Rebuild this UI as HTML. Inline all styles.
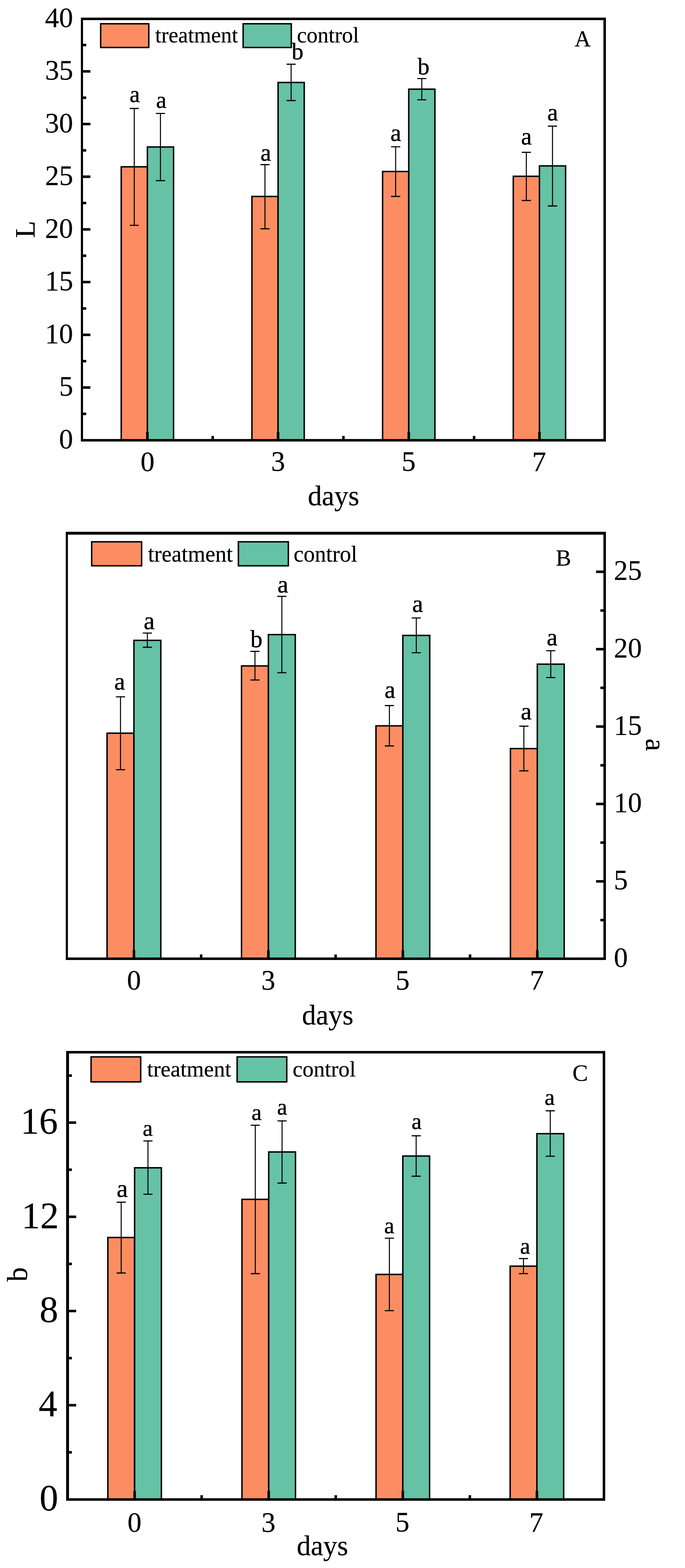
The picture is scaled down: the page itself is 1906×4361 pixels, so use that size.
<!DOCTYPE html>
<html lang="en">
<head>
<meta charset="utf-8">
<title>Colour parameters L, a, b of treatment and control over days</title>
<style>
html,body{margin:0;padding:0;background:#fff;}
body{width:1906px;height:4361px;overflow:hidden;}
svg{display:block;}
svg text{font-family:"Liberation Serif", "DejaVu Serif", serif;fill:#000;stroke:#000;stroke-width:0.3px;}
svg .ann text{stroke-width:0.7px;}
</style>
</head>
<body>
<svg width="1906" height="4361" viewBox="0 0 1906 4361" role="img" aria-label="Bar charts of L, a and b colour values for treatment and control at days 0, 3, 5 and 7">
<rect width="1906" height="4361" fill="#fff"/>
<g id="panel-A">
<g stroke="#000" stroke-width="4">
<rect x="337.31" y="463.9" width="72.8" height="760.3" fill="#FC8D62"/>
<rect x="410.11" y="408.8" width="72.8" height="815.4" fill="#66C2A5"/>
<rect x="700.94" y="546.4" width="72.8" height="677.8" fill="#FC8D62"/>
<rect x="773.74" y="229.4" width="72.8" height="994.8" fill="#66C2A5"/>
<rect x="1064.56" y="477" width="72.8" height="747.2" fill="#FC8D62"/>
<rect x="1137.36" y="248" width="72.8" height="976.2" fill="#66C2A5"/>
<rect x="1428.19" y="490.3" width="72.8" height="733.9" fill="#FC8D62"/>
<rect x="1500.99" y="461.4" width="72.8" height="762.8" fill="#66C2A5"/>
</g>
<g fill="none" stroke="#000" stroke-width="3.1">
<path d="M373.61 301.6V626.8" stroke-width="2.8"/>
<path d="M360.86 301.6H386.36M360.86 626.8H386.36"/>
<path d="M446.41 315.5V502.4" stroke-width="2.8"/>
<path d="M433.66 315.5H459.16M433.66 502.4H459.16"/>
<path d="M737.24 457.9V636.4" stroke-width="2.8"/>
<path d="M724.49 457.9H749.99M724.49 636.4H749.99"/>
<path d="M810.04 178.6V279.6" stroke-width="2.8"/>
<path d="M797.29 178.6H822.79M797.29 279.6H822.79"/>
<path d="M1100.86 408.2V546.4" stroke-width="2.8"/>
<path d="M1088.11 408.2H1113.61M1088.11 546.4H1113.61"/>
<path d="M1173.66 218.5V277.5" stroke-width="2.8"/>
<path d="M1160.91 218.5H1186.41M1160.91 277.5H1186.41"/>
<path d="M1464.49 423.6V557.6" stroke-width="2.8"/>
<path d="M1451.74 423.6H1477.24M1451.74 557.6H1477.24"/>
<path d="M1537.29 350.9V572.9" stroke-width="2.8"/>
<path d="M1524.54 350.9H1550.04M1524.54 572.9H1550.04"/>
</g>
<path d="M410.11 1224.5V1201M591.92 1224.5V1212.5M773.74 1224.5V1201M955.55 1224.5V1212.5M1137.36 1224.5V1201M1319.17 1224.5V1212.5M1500.99 1224.5V1201M228 1150.94H240M228 1077.67H251.5M228 1004.41H240M228 931.15H251.5M228 857.89H240M228 784.62H251.5M228 711.36H240M228 638.1H251.5M228 564.84H240M228 491.58H251.5M228 418.31H240M228 345.05H251.5M228 271.79H240M228 198.53H251.5M228 125.26H240" fill="none" stroke="#000" stroke-width="7"/>
<path d="M225 49H1686V1228H225ZM231 56V1221H1679V56Z" fill="#000" fill-rule="evenodd"/>
<text x="164.23" y="1246.95" font-size="78">0</text>
<text x="164.42" y="1100.03" font-size="78">5</text>
<text x="125.23" y="953.9" font-size="78">10</text>
<text x="125.42" y="807.18" font-size="78">15</text>
<text x="125.23" y="660.85" font-size="78">20</text>
<text x="125.42" y="514.22" font-size="78">25</text>
<text x="125.23" y="367.8" font-size="78">30</text>
<text x="125.42" y="221.17" font-size="78">35</text>
<text x="125.23" y="74.75" font-size="78">40</text>
<text x="391.01" y="1309.55" font-size="78">0</text>
<text x="754.34" y="1309.45" font-size="78">3</text>
<text x="1117.58" y="1309.15" font-size="78">5</text>
<text x="1480.52" y="1309.55" font-size="78">7</text>
<text x="856.53" y="1404.92" font-size="78">days</text>
<text x="95.95" y="661.62" font-size="78" transform="rotate(-90 95.95 661.62)">L</text>
<g stroke="#000" stroke-width="4">
<rect x="280" y="66.1" width="134" height="66" fill="#FC8D62"/>
<rect x="676.5" y="66.1" width="134" height="66" fill="#66C2A5"/>
</g>
<text x="431.69" y="118.3" font-size="61">treatment</text>
<text x="826.21" y="118.3" font-size="61">control</text>
<text x="1598.84" y="128.53" font-size="62.5">A</text>
<g class="ann">
<text x="360.39" y="283.9" font-size="65">a</text>
<text x="434.22" y="299.8" font-size="65.5">a</text>
<text x="724.77" y="447.48" font-size="67">a</text>
<text x="811.55" y="164.9" font-size="65.5">b</text>
<text x="1086.34" y="391.67" font-size="68">a</text>
<text x="1161.99" y="206.99" font-size="66">b</text>
<text x="1449.66" y="402.37" font-size="67.5">a</text>
<text x="1522.66" y="334.57" font-size="67.5">a</text>
</g>
</g>
<g id="panel-B">
<g stroke="#000" stroke-width="4">
<rect x="297.86" y="2039.2" width="74.8" height="627.3" fill="#FC8D62"/>
<rect x="372.66" y="1781" width="74.8" height="885.5" fill="#66C2A5"/>
<rect x="671.99" y="1852.1" width="74.8" height="814.4" fill="#FC8D62"/>
<rect x="746.79" y="1765" width="74.8" height="901.5" fill="#66C2A5"/>
<rect x="1046.11" y="2018.7" width="74.8" height="647.8" fill="#FC8D62"/>
<rect x="1120.91" y="1767.3" width="74.8" height="899.2" fill="#66C2A5"/>
<rect x="1420.24" y="2082" width="74.8" height="584.5" fill="#FC8D62"/>
<rect x="1495.04" y="1847.2" width="74.8" height="819.3" fill="#66C2A5"/>
</g>
<g fill="none" stroke="#000" stroke-width="3.1">
<path d="M335.26 1938V2140.8" stroke-width="2.8"/>
<path d="M322.51 1938H348.01M322.51 2140.8H348.01"/>
<path d="M410.06 1760.8V1800.1" stroke-width="2.8"/>
<path d="M397.31 1760.8H422.81M397.31 1800.1H422.81"/>
<path d="M709.39 1811.6V1891.2" stroke-width="2.8"/>
<path d="M696.64 1811.6H722.14M696.64 1891.2H722.14"/>
<path d="M784.19 1658.6V1871" stroke-width="2.8"/>
<path d="M771.44 1658.6H796.94M771.44 1871H796.94"/>
<path d="M1083.51 1962.4V2074.6" stroke-width="2.8"/>
<path d="M1070.76 1962.4H1096.26M1070.76 2074.6H1096.26"/>
<path d="M1158.31 1718.8V1815.5" stroke-width="2.8"/>
<path d="M1145.56 1718.8H1171.06M1145.56 1815.5H1171.06"/>
<path d="M1457.64 2019.6V2143.9" stroke-width="2.8"/>
<path d="M1444.89 2019.6H1470.39M1444.89 2143.9H1470.39"/>
<path d="M1532.44 1809.7V1884.5" stroke-width="2.8"/>
<path d="M1519.69 1809.7H1545.19M1519.69 1884.5H1545.19"/>
</g>
<path d="M372.66 2666.5V2642.5M559.73 2666.5V2654.5M746.79 2666.5V2642.5M933.85 2666.5V2654.5M1120.91 2666.5V2642.5M1307.97 2666.5V2654.5M1495.04 2666.5V2642.5M1682.5 2558.88H1670.5M1682.5 2451.25H1658.5M1682.5 2343.62H1670.5M1682.5 2236H1658.5M1682.5 2128.38H1670.5M1682.5 2020.75H1658.5M1682.5 1913.12H1670.5M1682.5 1805.5H1658.5M1682.5 1697.88H1670.5M1682.5 1590.25H1658.5" fill="none" stroke="#000" stroke-width="7"/>
<path d="M183 1479H1686V2670H183ZM189 1487V2663H1679V1487Z" fill="#000" fill-rule="evenodd"/>
<text x="1708" y="2688.74" font-size="78">0</text>
<text x="1708" y="2473.11" font-size="78">5</text>
<text x="1708" y="2258.24" font-size="78">10</text>
<text x="1708" y="2042.8" font-size="78">15</text>
<text x="1708" y="1827.75" font-size="78">20</text>
<text x="1708" y="1612.4" font-size="78">25</text>
<text x="353.26" y="2752.14" font-size="78">0</text>
<text x="727.1" y="2752.05" font-size="78">3</text>
<text x="1100.83" y="2751.76" font-size="78">5</text>
<text x="1474.27" y="2752.14" font-size="78">7</text>
<text x="840.33" y="2848.72" font-size="78">days</text>
<text x="1797.73" y="2053.93" font-size="79" transform="rotate(90 1797.73 2053.93)">a</text>
<g stroke="#000" stroke-width="4">
<rect x="255.1" y="1506.9" width="139" height="66.7" fill="#FC8D62"/>
<rect x="663.3" y="1506.9" width="139" height="66.7" fill="#66C2A5"/>
</g>
<text x="411.68" y="1561.8" font-size="62.5">treatment</text>
<text x="817.06" y="1561.8" font-size="62.5">control</text>
<text x="1546.38" y="1573.28" font-size="64">B</text>
<g class="ann">
<text x="317.96" y="1918.18" font-size="67.5">a</text>
<text x="399.81" y="1750.16" font-size="69">a</text>
<text x="696.71" y="1799.98" font-size="67">b</text>
<text x="772.09" y="1648.47" font-size="68">a</text>
<text x="1070.11" y="1941.08" font-size="67.5">a</text>
<text x="1147.04" y="1701.97" font-size="68">a</text>
<text x="1448.99" y="2001.47" font-size="68">a</text>
<text x="1521.31" y="1795.28" font-size="67.5">a</text>
</g>
</g>
<g id="panel-C">
<g stroke="#000" stroke-width="4">
<rect x="300.06" y="3441.8" width="74.5" height="728.4" fill="#FC8D62"/>
<rect x="374.56" y="3247.9" width="74.5" height="922.3" fill="#66C2A5"/>
<rect x="673.19" y="3335.7" width="74.5" height="834.5" fill="#FC8D62"/>
<rect x="747.69" y="3203.9" width="74.5" height="966.3" fill="#66C2A5"/>
<rect x="1046.31" y="3544.5" width="74.5" height="625.7" fill="#FC8D62"/>
<rect x="1120.81" y="3215.2" width="74.5" height="955" fill="#66C2A5"/>
<rect x="1419.44" y="3521.5" width="74.5" height="648.7" fill="#FC8D62"/>
<rect x="1493.94" y="3153" width="74.5" height="1017.2" fill="#66C2A5"/>
</g>
<g fill="none" stroke="#000" stroke-width="3.1">
<path d="M337.21 3343.6V3540.6" stroke-width="2.8"/>
<path d="M324.46 3343.6H349.96M324.46 3540.6H349.96"/>
<path d="M411.71 3173.3V3321.5" stroke-width="2.8"/>
<path d="M398.96 3173.3H424.46M398.96 3321.5H424.46"/>
<path d="M710.34 3129.5V3542.4" stroke-width="2.8"/>
<path d="M697.59 3129.5H723.09M697.59 3542.4H723.09"/>
<path d="M784.84 3117.5V3290.4" stroke-width="2.8"/>
<path d="M772.09 3117.5H797.59M772.09 3290.4H797.59"/>
<path d="M1083.46 3443.7V3645.2" stroke-width="2.8"/>
<path d="M1070.71 3443.7H1096.21M1070.71 3645.2H1096.21"/>
<path d="M1157.96 3158.9V3271.4" stroke-width="2.8"/>
<path d="M1145.21 3158.9H1170.71M1145.21 3271.4H1170.71"/>
<path d="M1456.59 3500.4V3542.2" stroke-width="2.8"/>
<path d="M1443.84 3500.4H1469.34M1443.84 3542.2H1469.34"/>
<path d="M1531.09 3089.4V3215.8" stroke-width="2.8"/>
<path d="M1518.34 3089.4H1543.84M1518.34 3215.8H1543.84"/>
</g>
<path d="M374.56 4170.5V4146.5M561.12 4170.5V4158.5M747.69 4170.5V4146.5M934.25 4170.5V4158.5M1120.81 4170.5V4146.5M1307.38 4170.5V4158.5M1493.94 4170.5V4146.5M188 4039.22H200M188 3908.24H212M188 3777.26H200M188 3646.28H212M188 3515.3H200M188 3384.32H212M188 3253.34H200M188 3122.36H212M188 2991.38H200" fill="none" stroke="#000" stroke-width="7"/>
<path d="M184 2923H1684V4174H184ZM192 2930V4167H1677V2930Z" fill="#000" fill-rule="evenodd"/>
<text x="109.9" y="4201.06" font-size="104">0</text>
<text x="107.56" y="3939.23" font-size="104">4</text>
<text x="109.9" y="3677.14" font-size="104">8</text>
<text x="59.72" y="3415.57" font-size="104">12</text>
<text x="57.12" y="3153.09" font-size="104">16</text>
<text x="354.76" y="4259.74" font-size="78">0</text>
<text x="727.6" y="4259.65" font-size="78">3</text>
<text x="1100.33" y="4259.35" font-size="78">5</text>
<text x="1472.77" y="4259.74" font-size="78">7</text>
<text x="825.73" y="4325.02" font-size="78">days</text>
<text x="75.4" y="3564.4" font-size="80" transform="rotate(-90 75.4 3564.4)">b</text>
<g stroke="#000" stroke-width="4">
<rect x="253.4" y="2939.4" width="138.1" height="69.6" fill="#FC8D62"/>
<rect x="659.8" y="2939.4" width="138.1" height="69.6" fill="#66C2A5"/>
</g>
<text x="409.18" y="2994.3" font-size="62">treatment</text>
<text x="814.27" y="2994.3" font-size="62">control</text>
<text x="1592.79" y="3005.71" font-size="65">C</text>
<g class="ann">
<text x="324.51" y="3329.45" font-size="70.5">a</text>
<text x="397.04" y="3159.11" font-size="63.5">a</text>
<text x="699.87" y="3115.31" font-size="64">a</text>
<text x="770.99" y="3100.11" font-size="63.5">a</text>
<text x="1068.94" y="3430.41" font-size="63.5">a</text>
<text x="1145.15" y="3139.92" font-size="63">a</text>
<text x="1447.02" y="3486.91" font-size="64">a</text>
<text x="1515.17" y="3073.11" font-size="64">a</text>
</g>
</g>
</svg>
</body>
</html>
